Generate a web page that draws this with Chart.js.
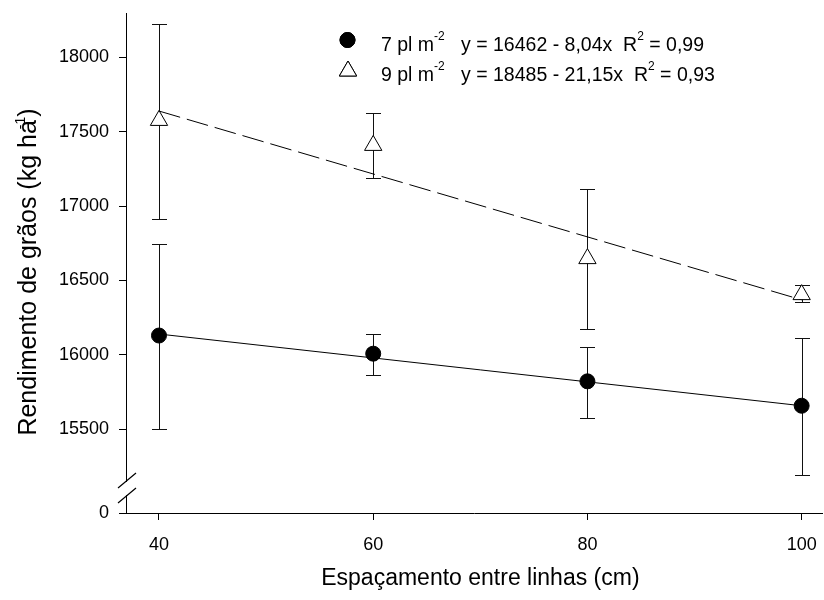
<!DOCTYPE html>
<html>
<head>
<meta charset="utf-8">
<script src="https://cdn.jsdelivr.net/npm/chart.js@4/dist/chart.umd.min.js"></script>
<style>
    html, body { margin: 0; padding: 0; background: #fff; overflow: hidden; }
    #wrap { width: 824px; height: 600px; }
    canvas { display: block; }
</style>
</head>
<body>
<div id="wrap"><canvas id="yieldChart" width="824" height="600"></canvas></div>
<script>
// ========== DATA ==========
const spacing = [40, 60, 80, 100];

const yield7 = [16130, 16008, 15822, 15658];
const err7Low = [15500, 15867, 15577, 15194];
const err7High = [16745, 16143, 16055, 16114];

const yield9 = [17576, 17408, 16647, 16405];
const err9Low = [16910, 17186, 16176, 16353];
const err9High = [18222, 17623, 17112, 16468];

// regression lines, read at both ends
const fitX = [40, 100];
const fit7 = [16140, 15658];
const fit9 = [17639, 16370];

const xTicks = [40, 60, 80, 100];
const yTicks = [15500, 16000, 16500, 17000, 17500, 18000];
const yBreakValue = 14937;   // bottom of the broken axis, shown as 0
const yBreakLabel = '0';

const xTitle = '\u00a0\u00a0Espaçamento entre linhas (cm)';
const yTitle = [['Rendimento de grãos (kg ha', false], ['-1', true], [')', false]];
const legend7 = [['7 pl m', false], ['-2', true], ['   y = 16462 - 8,04x  R', false], ['2', true], [' = 0,99', false]];
const legend9 = [['9 pl m', false], ['-2', true], ['   y = 18485 - 21,15x  R', false], ['2', true], [' = 0,93', false]];

const FONT = '"Liberation Sans", Arial, Helvetica, sans-serif';

// ========== HELPERS ==========
function toPoints(xs, ys) {
    return xs.map((x, i) => ({ x: x, y: ys[i] }));
}

// draws a run of text pieces, superscripts raised and smaller
// supBack pulls the superscript back over the previous letter
function drawRichText(ctx, pieces, x, y, size, supSize, supRaise, supBack = 0) {
    let cx = x;
    pieces.forEach(([text, sup]) => {
        ctx.font = `${sup ? supSize : size}px ${FONT}`;
        const w = ctx.measureText(text).width;
        if (sup) {
            ctx.fillText(text, cx - supBack, y - supRaise);
            cx += Math.max(0, w - supBack);
        } else {
            ctx.fillText(text, cx, y);
            cx += w;
        }
    });
    return cx;
}

function richTextWidth(ctx, pieces, size, supSize, supBack = 0) {
    let w = 0;
    pieces.forEach(([text, sup]) => {
        ctx.font = `${sup ? supSize : size}px ${FONT}`;
        const tw = ctx.measureText(text).width;
        w += sup ? Math.max(0, tw - supBack) : tw;
    });
    return w;
}

// ========== PLUGINS ==========
const errorBarPlugin = {
    id: 'errorBars',
    beforeDatasetsDraw(chart) {
        const { ctx, scales: { x, y } } = chart;
        ctx.save();
        ctx.strokeStyle = '#111';
        ctx.lineWidth = 1;
        chart.data.datasets.forEach(ds => {
            if (!ds.errLow) return;
            ds.data.forEach((p, i) => {
                const px = Math.round(x.getPixelForValue(p.x)) + 0.5;
                const top = Math.round(y.getPixelForValue(ds.errHigh[i])) + 0.5;
                const bot = Math.round(y.getPixelForValue(ds.errLow[i])) + 0.5;
                ctx.beginPath();
                ctx.moveTo(px, top); ctx.lineTo(px, bot);
                ctx.moveTo(px - 7.5, top); ctx.lineTo(px + 7.5, top);
                ctx.moveTo(px - 7.5, bot); ctx.lineTo(px + 7.5, bot);
                ctx.stroke();
            });
        });
        ctx.restore();
    }
};

const axisBreakPlugin = {
    id: 'axisBreak',
    afterDraw(chart) {
        const { ctx, chartArea } = chart;
        const ax = chartArea.left;
        ctx.save();
        ctx.fillStyle = '#fff';
        ctx.fillRect(ax - 2, 482, 5, 13);
        ctx.strokeStyle = '#000';
        ctx.lineWidth = 1.2;
        ctx.beginPath();
        ctx.moveTo(ax - 8, 488); ctx.lineTo(ax + 10, 473);
        ctx.moveTo(ax - 8, 503); ctx.lineTo(ax + 10, 488);
        ctx.stroke();
        ctx.restore();
    }
};

const legendPlugin = {
    id: 'richLegend',
    afterDraw(chart) {
        const { ctx } = chart;
        const ds = chart.data.datasets;
        ctx.save();
        ctx.textBaseline = 'alphabetic';
        ctx.textAlign = 'left';
        // markers
        ctx.strokeStyle = '#000';
        ctx.lineWidth = 1;
        ctx.fillStyle = ds[0].backgroundColor;
        Chart.helpers.drawPoint(ctx, { pointStyle: 'circle', radius: 7.5, rotation: 0, borderWidth: 1 }, 347.5, 40);
        ctx.fill(); ctx.stroke();
        ctx.fillStyle = ds[1].backgroundColor;
        Chart.helpers.drawPoint(ctx, { pointStyle: 'triangle', radius: 10, rotation: 0, borderWidth: 1 }, 348, 71);
        ctx.fill(); ctx.stroke();
        // texts
        ctx.fillStyle = '#000';
        drawRichText(ctx, legend7, 381, 50.5, 19.5, 12, 11);
        drawRichText(ctx, legend9, 381, 81, 19.5, 12, 11);
        ctx.restore();
    }
};

const yTitlePlugin = {
    id: 'yTitle',
    afterDraw(chart) {
        const { ctx } = chart;
        ctx.save();
        ctx.translate(36, 272);
        ctx.rotate(-Math.PI / 2);
        ctx.fillStyle = '#000';
        ctx.textBaseline = 'alphabetic';
        ctx.textAlign = 'left';
        const w = richTextWidth(ctx, yTitle, 25, 14, 9);
        drawRichText(ctx, yTitle, -w / 2, 0, 25, 14, 11, 9);
        ctx.restore();
    }
};

// ========== CHART ==========
Chart.defaults.font.family = FONT;
Chart.defaults.color = '#000';

const ctx = document.getElementById('yieldChart').getContext('2d');

new Chart(ctx, {
    type: 'scatter',
    data: {
        datasets: [
            {
                label: '7 pl m-2',
                data: toPoints(spacing, yield7),
                errLow: err7Low,
                errHigh: err7High,
                pointStyle: 'circle',
                pointRadius: 7.5,
                backgroundColor: '#000',
                borderColor: '#000',
                borderWidth: 1,
                order: 1
            },
            {
                label: '9 pl m-2',
                data: toPoints(spacing, yield9),
                errLow: err9Low,
                errHigh: err9High,
                pointStyle: 'triangle',
                pointRadius: 10,
                backgroundColor: '#fff',
                borderColor: '#000',
                borderWidth: 1,
                order: 1
            },
            {
                type: 'line',
                label: 'fit 7',
                data: toPoints(fitX, fit7),
                borderColor: '#000',
                borderWidth: 1,
                pointRadius: 0,
                fill: false,
                order: 2
            },
            {
                type: 'line',
                label: 'fit 9',
                data: toPoints(fitX, fit9),
                borderColor: '#000',
                borderWidth: 1,
                borderDash: [22, 7],
                pointRadius: 0,
                fill: false,
                order: 2
            }
        ]
    },
    options: {
        responsive: false,
        animation: false,
        events: [],
        layout: { autoPadding: false, padding: { top: 13, right: 2, left: 0, bottom: 0 } },
        plugins: {
            legend: { display: false },
            tooltip: { enabled: false }
        },
        scales: {
            x: {
                type: 'linear',
                min: 36.92,
                max: 101.9,
                afterBuildTicks: scale => { scale.ticks = xTicks.map(v => ({ value: v })); },
                afterFit: scale => {
                    scale.height = 87;
                    scale.paddingLeft = 0;
                    scale.paddingRight = 0;
                },
                grid: { drawOnChartArea: false, drawTicks: true, tickLength: 7, color: '#000' },
                border: { display: true, color: '#000', width: 1 },
                ticks: { color: '#000', font: { size: 18 }, padding: 14, maxRotation: 0 },
                title: {
                    display: true,
                    text: xTitle,
                    color: '#000',
                    font: { size: 23 },
                    padding: { top: 8, bottom: 8 }
                }
            },
            y: {
                type: 'linear',
                min: yBreakValue,
                max: 18298,
                afterBuildTicks: scale => { scale.ticks = [yBreakValue, ...yTicks].map(v => ({ value: v })); },
                afterFit: scale => {
                    scale.width = 126;
                    scale.paddingTop = 0;
                    scale.paddingBottom = 0;
                },
                grid: { drawOnChartArea: false, drawTicks: true, tickLength: 7, color: '#000' },
                border: { display: true, color: '#000', width: 1 },
                ticks: {
                    color: '#000',
                    font: { size: 18 },
                    padding: 10,
                    callback: value => value === yBreakValue ? yBreakLabel : String(value)
                }
            }
        }
    },
    plugins: [errorBarPlugin, axisBreakPlugin, legendPlugin, yTitlePlugin]
});
</script>
</body>
</html>
